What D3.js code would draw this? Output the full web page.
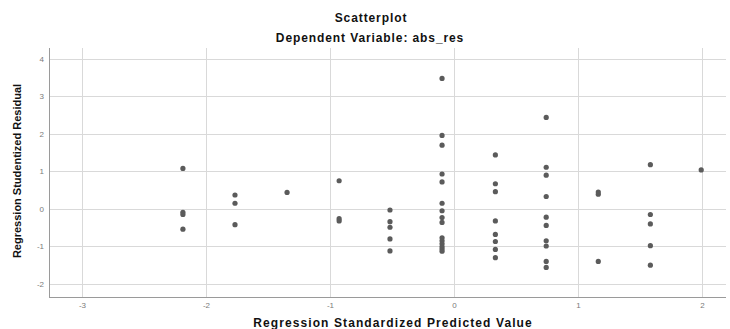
<!DOCTYPE html>
<html lang="en">
<head>
    <meta charset="UTF-8">
    <title>Scatterplot</title>
    <script src="https://d3js.org/d3.v7.min.js"></script>
    <style>
        body { margin: 0; background: #fff; }
        .grid line { stroke: #d9d9d9; stroke-width: 1px; }
        .tick-label { font: 8px "Liberation Sans", Arial, sans-serif; fill: #7a7a7a; }
        .title { font: bold 12px "Liberation Sans", Arial, sans-serif; fill: #111; letter-spacing: 0.9px; }
    </style>
</head>
<body>
    <div id="chart"></div>

    <script>
        const width = 730;
        const height = 329;

        // standardized predicted value of each point
        const predicted = [
            -2.19, -2.19, -2.19, -2.19,
            -1.77, -1.77, -1.77,
            -1.35,
            -0.93, -0.93, -0.93,
            -0.52, -0.52, -0.52, -0.52, -0.52,
            -0.1, -0.1, -0.1, -0.1, -0.1, -0.1, -0.1, -0.1, -0.1, -0.1, -0.1, -0.1, -0.1, -0.1, -0.1,
            0.33, 0.33, 0.33, 0.33, 0.33, 0.33, 0.33, 0.33,
            0.74, 0.74, 0.74, 0.74, 0.74, 0.74, 0.74, 0.74, 0.74, 0.74,
            1.16, 1.16, 1.16,
            1.58, 1.58, 1.58, 1.58, 1.58,
            1.99
        ];
        // studentized residual of each point
        const residual = [
            1.07, -0.1, -0.16, -0.55,
            0.36, 0.14, -0.43,
            0.43,
            0.74, -0.27, -0.33,
            -0.04, -0.35, -0.5, -0.81, -1.13,
            3.47, 1.95, 1.69, 0.92, 0.71, 0.14, -0.06, -0.24, -0.37, -0.78, -0.86, -0.94, -1.02, -1.08, -1.14,
            1.43, 0.66, 0.45, -0.33, -0.69, -0.88, -1.09, -1.31,
            2.43, 1.1, 0.89, 0.32, -0.23, -0.45, -0.86, -1.0, -1.41, -1.57,
            0.44, 0.38, -1.41,
            1.17, -0.16, -0.41, -0.99, -1.51,
            1.03
        ];
        const xTicks = [-3, -2, -1, 0, 1, 2];
        const yTicks = [-2, -1, 0, 1, 2, 3, 4];

        const points = predicted.map((p, i) => ({ x: p, y: residual[i] }));

        const x = d3.scaleLinear().domain([-3.27, 2.19]).range([49, 726]);
        const y = d3.scaleLinear().domain([-2.36, 4.28]).range([297, 48]);

        const svg = d3.select("#chart").append("svg")
            .attr("width", width)
            .attr("height", height)
            .style("font-family", "Liberation Sans, Arial, sans-serif");

        // grid
        const grid = svg.append("g").attr("class", "grid");
        grid.selectAll(".gx")
            .data(xTicks)
            .enter().append("line")
            .attr("x1", d => Math.round(x(d)) + 0.5)
            .attr("x2", d => Math.round(x(d)) + 0.5)
            .attr("y1", y.range()[1])
            .attr("y2", y.range()[0]);
        grid.selectAll(".gy")
            .data(yTicks)
            .enter().append("line")
            .attr("x1", x.range()[0])
            .attr("x2", x.range()[1])
            .attr("y1", d => Math.round(y(d)) + 0.5)
            .attr("y2", d => Math.round(y(d)) + 0.5);

        // axis lines
        svg.append("line")
            .attr("x1", 49.5).attr("x2", 49.5)
            .attr("y1", y.range()[1]).attr("y2", y.range()[0] + 0.5)
            .attr("stroke", "#9a9a9a");
        svg.append("line")
            .attr("x1", 49).attr("x2", x.range()[1])
            .attr("y1", y.range()[0] + 0.5).attr("y2", y.range()[0] + 0.5)
            .attr("stroke", "#9a9a9a");

        // tick labels
        svg.append("g").selectAll("text")
            .data(xTicks)
            .enter().append("text")
            .attr("class", "tick-label")
            .attr("x", d => x(d))
            .attr("y", 308)
            .attr("text-anchor", "middle")
            .text(d => d);
        svg.append("g").selectAll("text")
            .data(yTicks)
            .enter().append("text")
            .attr("class", "tick-label")
            .attr("x", 44)
            .attr("y", d => y(d) + 3)
            .attr("text-anchor", "end")
            .text(d => d);

        // points
        svg.append("g").selectAll("circle")
            .data(points)
            .enter().append("circle")
            .attr("cx", d => x(d.x))
            .attr("cy", d => y(d.y))
            .attr("r", 2.6)
            .attr("fill", "#5b5b5b");

        // titles
        svg.append("text")
            .attr("class", "title")
            .attr("x", 371).attr("y", 22)
            .attr("text-anchor", "middle")
            .text("Scatterplot");
        svg.append("text")
            .attr("class", "title")
            .attr("x", 370).attr("y", 42)
            .attr("text-anchor", "middle")
            .text("Dependent Variable: abs_res");
        svg.append("text")
            .attr("class", "title")
            .style("letter-spacing", "1.1px")
            .attr("x", 393).attr("y", 327)
            .attr("text-anchor", "middle")
            .text("Regression Standardized Predicted Value");
        svg.append("text")
            .attr("class", "title")
            .style("font-size", "11px")
            .style("letter-spacing", "0px")
            .attr("transform", "translate(21,171) rotate(-90)")
            .attr("text-anchor", "middle")
            .text("Regression Studentized Residual");
    </script>
</body>
</html>
